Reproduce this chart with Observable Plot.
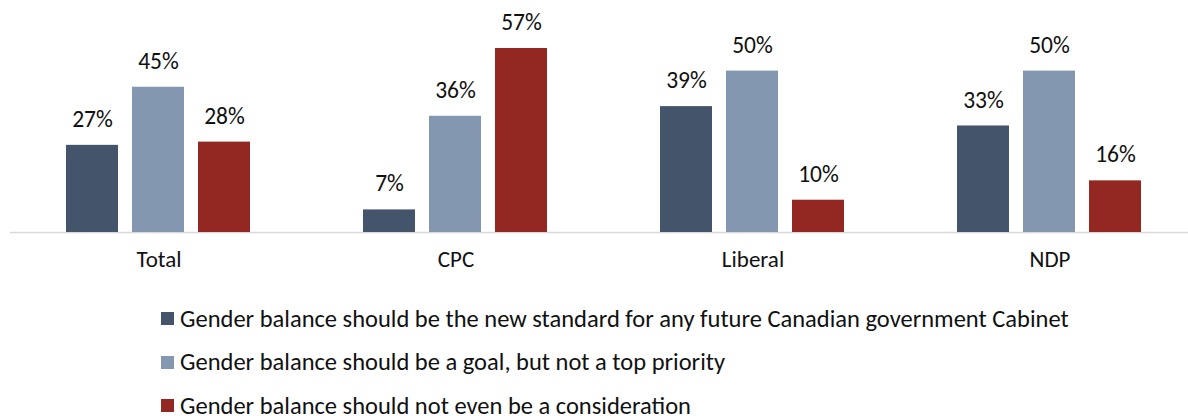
<!DOCTYPE html>
<html>
<head>
<meta charset="utf-8">
<script src="https://cdn.jsdelivr.net/npm/d3@7"></script>
<script src="https://cdn.jsdelivr.net/npm/@observablehq/plot@0.6"></script>
<style>
  body { margin: 0; background: #fff; font-family: Calibri, Carlito, Lato, "Open Sans", sans-serif; }
  #chart svg { display: block; overflow: visible; }
  .legend { margin-left: 161px; margin-top: 7px; }
  .legend .row { height: 43.5px; display: flex; align-items: center; font-size: 24.5px; color: #111; white-space: nowrap; }
  .legend .sw { width: 13px; height: 13px; margin-right: 6px; flex: none; }
</style>
</head>
<body>
<div id="chart"></div>
<div class="legend" id="legend"></div>
<script>
const groups = ["Total", "CPC", "Liberal", "NDP"];
const seriesNames = [
  "Gender balance should be the new standard for any future Canadian government Cabinet",
  "Gender balance should be a goal, but not a top priority",
  "Gender balance should not even be a consideration"
];
const newStandard = [27, 7, 39, 33];
const goalNotPriority = [45, 36, 50, 50];
const notConsideration = [28, 57, 10, 16];
const colors = ["#44546A", "#8497B0", "#922821"];

const seriesValues = [newStandard, goalNotPriority, notConsideration];
const data = [];
groups.forEach((g, gi) => {
  seriesNames.forEach((s, si) => {
    data.push({group: g, series: s, value: seriesValues[si][gi]});
  });
});

const chart = Plot.plot({
  width: 1188,
  height: 290,
  marginTop: 48,
  marginBottom: 58,
  marginLeft: 0,
  marginRight: 0,
  style: {fontFamily: "Calibri, Carlito, Lato, 'Open Sans', sans-serif", fontSize: "23px", color: "#111"},
  fx: {domain: groups, range: [9.5, 1197.5], paddingInner: 0, paddingOuter: 0, label: null},
  x: {domain: seriesNames, paddingInner: 0.212, paddingOuter: 0.856, axis: null},
  y: {domain: [0, 57], axis: null},
  color: {domain: seriesNames, range: colors},
  marks: [
    Plot.ruleY([0], {stroke: "#d9d9d9", strokeWidth: 1.5}),
    Plot.barY(data, {fx: "group", x: "series", y: "value", fill: "series"}),
    Plot.text(data, {fx: "group", x: "series", y: "value", text: d => d.value + "%", dy: -26, fill: "#111", fontSize: 23.5}),
    Plot.axisFx({anchor: "bottom", tickSize: 0, tickPadding: 18, label: null, fontSize: 23})
  ]
});
document.getElementById("chart").appendChild(chart);

const legend = document.getElementById("legend");
seriesNames.forEach((s, i) => {
  const row = document.createElement("div");
  row.className = "row";
  const sw = document.createElement("span");
  sw.className = "sw";
  sw.style.background = colors[i];
  row.appendChild(sw);
  row.appendChild(document.createTextNode(s));
  legend.appendChild(row);
});
</script>
</body>
</html>
